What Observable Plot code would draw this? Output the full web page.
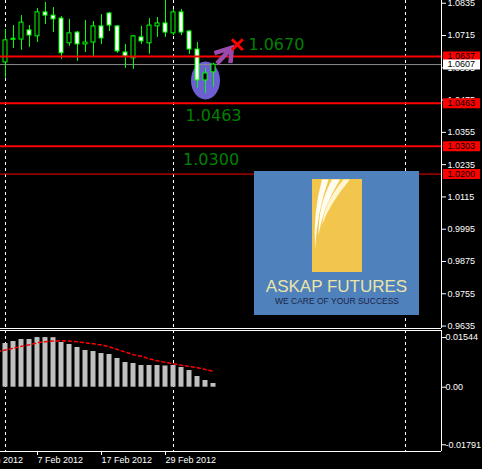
<!DOCTYPE html>
<html>
<head>
<meta charset="utf-8">
<script src="https://cdn.jsdelivr.net/npm/d3@7"></script>
<script src="https://cdn.jsdelivr.net/npm/@observablehq/plot@0.6"></script>
<style>
  html, body { margin: 0; padding: 0; background: #000; }
  #chart { position: relative; width: 482px; height: 469px; overflow: hidden; }
  #chart > svg { display: block; }
  #logo { position: absolute; left: 254px; top: 171px; }
</style>
</head>
<body>
<div id="chart"></div>
<script>
// ---- Daily candles (bar number = position on the time axis) ----
const bars  = d3.range(1, 28);
const open  = [1.0615, 1.0699, 1.0700, 1.0734, 1.0712, 1.0801, 1.0789, 1.0778, 1.0686, 1.0726,
               1.0682, 1.0689, 1.0749, 1.0797, 1.0749, 1.0652, 1.0630, 1.0708, 1.0686, 1.0749,
               1.0760, 1.0723, 1.0801, 1.0730, 1.0663, 1.0548, 1.0578];
const high  = [1.0738, 1.0752, 1.0789, 1.0752, 1.0815, 1.0838, 1.0819, 1.0786, 1.0775, 1.0730,
               1.0771, 1.0767, 1.0793, 1.0801, 1.0752, 1.0682, 1.0715, 1.0749, 1.0778, 1.0782,
               1.0862, 1.0812, 1.0812, 1.0734, 1.0689, 1.0593, 1.0612];
const low   = [1.0556, 1.0667, 1.0660, 1.0671, 1.0689, 1.0756, 1.0726, 1.0626, 1.0675, 1.0619,
               1.0652, 1.0637, 1.0682, 1.0730, 1.0649, 1.0593, 1.0589, 1.0682, 1.0645, 1.0708,
               1.0708, 1.0715, 1.0715, 1.0645, 1.0519, 1.0500, 1.0523];
const close = [1.0697, 1.0703, 1.0763, 1.0715, 1.0801, 1.0789, 1.0775, 1.0649, 1.0723, 1.0682,
               1.0689, 1.0749, 1.0704, 1.0752, 1.0656, 1.0637, 1.0712, 1.0693, 1.0752, 1.0760,
               1.0726, 1.0801, 1.0726, 1.0663, 1.0548, 1.0574, 1.0607];

// ---- Oscillator: histogram per bar, signal line (starts one bar earlier) ----
const macd   = [0.01359, 0.01421, 0.01483, 0.01483, 0.01544, 0.01544, 0.01540, 0.01390, 0.01328, 0.01235,
                0.01141, 0.01110, 0.01048, 0.01017, 0.00893, 0.00768, 0.00737, 0.00675, 0.00675, 0.00675,
                0.00660, 0.00675, 0.00613, 0.00519, 0.00333, 0.00208, 0.00115];
const signalBars = d3.range(0, 28);
const signal = [0.01105, 0.01157, 0.01213, 0.01272, 0.01319, 0.01384, 0.01415, 0.01440, 0.01443, 0.01437,
                0.01415, 0.01378, 0.01353, 0.01312, 0.01256, 0.01172, 0.01095, 0.01011, 0.00961, 0.00883,
                0.00821, 0.00774, 0.00731, 0.00681, 0.00650, 0.00606, 0.00550, 0.00494];

// ---- Axes, levels and annotations ----
const priceTicks     = [1.0835, 1.0715, 1.0595, 1.0475, 1.0355, 1.0235, 1.0115, 0.9995, 0.9875, 0.9755, 0.9635];
const oscTicks       = [0.01544, 0, -0.01791];
const oscTickLabels  = ["0.01544", "0.00", "-0.01791"];
const dateTickBars   = [-3, 5, 13, 21];
const dateTickLabels = ["26 Jan 2012", "7 Feb 2012", "17 Feb 2012", "29 Feb 2012"];
const separatorBars  = [1, 22, 51];
const levelLines     = [1.0637, 1.0463, 1.0303];
const thinLevels     = [1.0200];
const bidPrice       = close[close.length - 1];
const targetBars     = [29.3];
const targetPrices   = [1.0670];
const noteBars       = [23.5, 23.2];
const notePrices     = [1.0463, 1.0300];
const zoneBars       = [26];
const zonePrices     = [1.0548];

const candles = bars.map((b, k) => ({bar: b, open: open[k], high: high[k], low: low[k], close: close[k]}));
const osc     = bars.map((b, k) => ({bar: b, value: macd[k]}));
const sig     = signalBars.map((b, k) => ({bar: b, value: signal[k]}));
const target  = targetBars.map((b, k) => ({bar: b, price: targetPrices[k]}));
const notes   = noteBars.map((b, k) => ({bar: b, price: notePrices[k]}));
const zone    = zoneBars.map((b, k) => ({bar: b, price: zonePrices[k]}));
const tagged  = [...levelLines, ...thinLevels];

const X_DOMAIN   = [0.375, 55.5];
const Y_MAIN     = [0.96259, 1.08452];
const Y_OSC      = [-0.0200, 0.01764];
const GREEN      = "#00ff00";
const baseStyle  = {background: "black", color: "white", fontFamily: '"Liberation Sans", Arial, sans-serif', fontSize: "9px"};

// Custom symbols drawn around the anchor point
const ellipseSymbol = {draw(ctx) {
  const rx = 14.5, ry = 19, kx = rx * 0.5523, ky = ry * 0.5523;
  ctx.moveTo(rx, 0);
  ctx.bezierCurveTo(rx, ky, kx, ry, 0, ry);
  ctx.bezierCurveTo(-kx, ry, -rx, ky, -rx, 0);
  ctx.bezierCurveTo(-rx, -ky, -kx, -ry, 0, -ry);
  ctx.bezierCurveTo(kx, -ry, rx, -ky, rx, 0);
  ctx.closePath();
}};
const arrowSymbol = {draw(ctx) {
  ctx.moveTo(-17.5, 5.5); ctx.lineTo(0, 0); ctx.lineTo(-1.5, 15.5);
  ctx.moveTo(-1.5, 1.5); ctx.lineTo(-15, 16);
}};
const tagSymbol = {draw(ctx) { ctx.rect(-18.5, -5, 37, 10); }};

const fmt4 = d => d.toFixed(4);
const oscLabel = new Map(oscTicks.map((t, k) => [t, oscTickLabels[k]]));
const dateLabel = new Map(dateTickBars.map((t, k) => [t, dateTickLabels[k]]));

const main = Plot.plot({
  width: 482, height: 329,
  marginTop: 0, marginBottom: 1, marginLeft: 0, marginRight: 41,
  x: {domain: X_DOMAIN, axis: null},
  y: {domain: Y_MAIN},
  style: baseStyle,
  marks: [
    Plot.dot(zone, {x: "bar", y: "price", symbol: ellipseSymbol, r: 5, fill: "#6c5fd2", stroke: "none"}),
    Plot.ruleY([bidPrice], {stroke: "#8c8c8c"}),
    Plot.ruleX(separatorBars, {stroke: "white", strokeDasharray: "3,3"}),
    Plot.ruleX(candles, {x: "bar", y1: "low", y2: "high", stroke: GREEN, clip: true}),
    Plot.rect(candles, {
      x1: d => d.bar - 0.25, x2: d => d.bar + 0.25, y1: "open", y2: "close",
      fill: d => d.close < d.open ? "white" : "black", stroke: GREEN
    }),
    Plot.ruleY(levelLines, {stroke: "#ff0000", strokeWidth: 2}),
    Plot.ruleY(thinLevels, {stroke: "#ff0000"}),
    Plot.dot(target, {x: "bar", y: "price", symbol: arrowSymbol, r: 5, fill: "none",
      stroke: "#9a4aa8", strokeWidth: 4.5, strokeLinejoin: "miter"}),
    Plot.dot(target, {x: "bar", y: "price", symbol: "times", r: 5, stroke: "#ff0000", strokeWidth: 3, dx: 5.5, dy: -3}),
    Plot.text(target, {x: "bar", y: "price", text: d => fmt4(d.price), dx: 16.5, dy: -3,
      textAnchor: "start", fill: "#008000", fontSize: 16, fontFamily: "DejaVu Sans"}),
    Plot.text(notes, {x: "bar", y: "price", text: d => fmt4(d.price), dy: 12.5,
      textAnchor: "start", fill: "#008000", fontSize: 16, fontFamily: "DejaVu Sans"}),
    Plot.axisY(priceTicks, {anchor: "right", tickSize: 4, tickPadding: 2, tickFormat: fmt4, label: null}),
    Plot.dot(tagged, {y: d => d, frameAnchor: "right", dx: 20, symbol: tagSymbol, r: 5, fill: "#ff0000", stroke: "none"}),
    Plot.text(tagged, {y: d => d, frameAnchor: "right", dx: 6, textAnchor: "start", text: fmt4, fill: "black"}),
    Plot.dot([bidPrice], {y: d => d, frameAnchor: "right", dx: 20, symbol: tagSymbol, r: 5, fill: "white", stroke: "none"}),
    Plot.text([bidPrice], {y: d => d, frameAnchor: "right", dx: 6, textAnchor: "start", text: fmt4, fill: "black"}),
    Plot.ruleX([X_DOMAIN[1]], {stroke: "white"}),
    Plot.ruleY([Y_MAIN[0]], {stroke: "white"})
  ]
});

const sub = Plot.plot({
  width: 482, height: 140,
  marginTop: 1, marginBottom: 18, marginLeft: 0, marginRight: 41,
  x: {domain: X_DOMAIN},
  y: {domain: Y_OSC},
  style: baseStyle,
  marks: [
    Plot.ruleX(separatorBars, {stroke: "white", strokeDasharray: "3,3"}),
    Plot.rect(osc, {x1: d => d.bar - 0.3125, x2: d => d.bar + 0.3125, y1: 0, y2: "value", fill: "#c0c0c0"}),
    Plot.line(sig, {x: "bar", y: "value", stroke: "#ff0000", strokeDasharray: "3,3", clip: true}),
    Plot.axisY(oscTicks, {anchor: "right", tickSize: 4, tickPadding: 0, tickFormat: d => oscLabel.get(d), label: null}),
    Plot.axisX(dateTickBars, {anchor: "bottom", tickSize: 4, tickPadding: 1, textAnchor: "start",
      tickFormat: d => dateLabel.get(d), label: null}),
    Plot.ruleX([X_DOMAIN[1]], {stroke: "white"}),
    Plot.ruleY(Y_OSC, {stroke: "white"})
  ]
});

const chart = document.getElementById("chart");
chart.append(main, sub);

// Broker logo panel
chart.insertAdjacentHTML("beforeend", `
<svg id="logo" width="165" height="144" viewBox="0 0 165 144">
  <rect width="165" height="144" fill="#4f81bd"/>
  <rect x="58" y="8" width="50" height="93" fill="#f2c64c"/>
  <path d="M68,8.5 Q59,40 61,78 Q63,42 74.5,8.5 Z" fill="#fffdf0"/>
  <path d="M78,8.5 Q64,34 64.5,64 Q69,36 86,8.5 Z" fill="#fffdf0"/>
  <path d="M89.5,8.5 Q71,30 68,54 Q76,32 96,8.5 Z" fill="#fff6d0"/>
  <text x="82.5" y="120.5" text-anchor="middle" font-family="Liberation Sans, Arial, sans-serif"
        font-size="17" fill="#ebe5a8">ASKAP FUTURES</text>
  <text x="83" y="133.3" text-anchor="middle" font-family="Liberation Sans, Arial, sans-serif"
        font-size="8.5" fill="#1c2547">WE CARE OF YOUR SUCCESS</text>
</svg>`);
</script>
</body>
</html>
